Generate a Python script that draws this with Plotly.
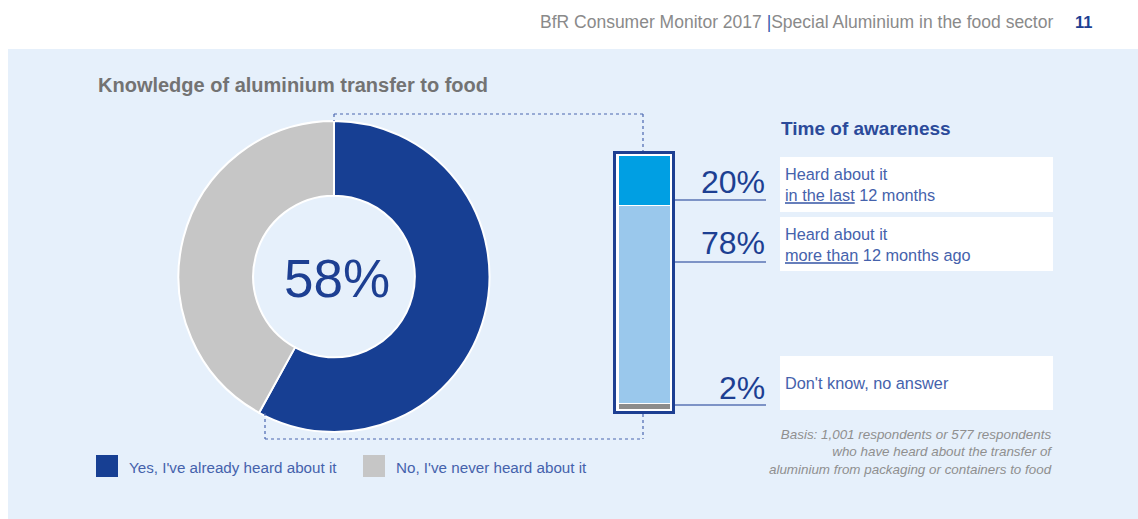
import plotly.graph_objects as go

# ---- data ----
donut_labels = ["Yes, I've already heard about it", "No, I've never heard about it"]
donut_values = [58, 42]
donut_colors = ["#173F93", "#C6C6C6"]

aware_labels = [
    "Heard about it<br><u>in the last</u> 12 months",
    "Heard about it<br><u>more than</u> 12 months ago",
    "Don't know, no answer",
]
aware_values = [20, 78, 2]
aware_colors = ["#009FE3", "#9AC8EC", "#8C8C8C"]

title_text = "Knowledge of aluminium transfer to food"
aware_title = "Time of awareness"
basis_text = ("Basis: 1,001 respondents or 577 respondents<br>"
              "who have heard about the transfer of<br>"
              "aluminium from packaging or containers to food")
header_text = "BfR Consumer Monitor 2017 <span style='color:#3B5BAA'>|</span>Special Aluminium in the food sector"
page_no = "11"

# ---- page geometry helpers (pixel -> paper) ----
W, H = 1138, 519
FONT = "Liberation Sans, Arial, sans-serif"
DARK = "#1D3F92"
TXT = "#4562AC"
PANEL = "#E6F0FB"


def px(x):
    return x / W


def py(y):
    return 1 - y / H


fig = go.Figure()

# donut
cx, cy, r = 334, 276.5, 155.5
fig.add_trace(go.Pie(
    labels=donut_labels, values=donut_values, hole=0.52, sort=False,
    direction="clockwise", rotation=0, textinfo="none", hoverinfo="label+percent",
    marker=dict(colors=donut_colors, line=dict(color="white", width=2)),
    domain=dict(x=[px(cx - r), px(cx + r)], y=[py(cy + r), py(cy - r)]),
    showlegend=False,
))

# stacked awareness bar (bottom segment first)
for lab, val, col in reversed(list(zip(aware_labels, aware_values, aware_colors))):
    fig.add_trace(go.Bar(
        x=[0], y=[val], width=1, name=lab, marker=dict(color=col, line=dict(color="white", width=1)),
        showlegend=False, hoverinfo="y",
    ))

bar_l, bar_r, bar_t, bar_b = 618, 670, 155, 409
fig.update_layout(
    barmode="stack",
    xaxis=dict(domain=[px(bar_l), px(bar_r)], range=[-0.5, 0.5], visible=False, fixedrange=True),
    yaxis=dict(domain=[py(bar_b), py(bar_t)], range=[0, 100], visible=False, fixedrange=True),
)

shapes = []
# light background panel
shapes.append(dict(type="rect", xref="paper", yref="paper", x0=px(8), x1=px(1138), y0=py(519), y1=py(49),
                   fillcolor=PANEL, line=dict(width=0), layer="below"))
# bar frame
shapes.append(dict(type="rect", xref="paper", yref="paper", x0=px(614.5), x1=px(673.5), y0=py(412.5), y1=py(152.5),
                   fillcolor="white", line=dict(color=DARK, width=3), layer="below"))

# dotted connectors between donut slice and bar
dot = dict(color="#4A66B0", width=1.2, dash="dot")
for (x0, y0, x1, y1) in [(334, 114, 643, 114), (643, 114, 643, 151), (334, 114, 334, 121),
                         (265, 413, 265, 439), (265, 439, 643, 439), (643, 414, 643, 439)]:
    shapes.append(dict(type="line", xref="paper", yref="paper", x0=px(x0), x1=px(x1), y0=py(y0), y1=py(y1),
                       line=dot, layer="above"))

# label boxes and leader lines
boxes = [(157, 212), (217, 271), (356, 410)]
leader_y = [200, 262, 405]
for (t, b), ly in zip(boxes, leader_y):
    shapes.append(dict(type="rect", xref="paper", yref="paper", x0=px(780), x1=px(1053), y0=py(b), y1=py(t),
                       fillcolor="white", line=dict(width=0), layer="below"))
    shapes.append(dict(type="line", xref="paper", yref="paper", x0=px(675), x1=px(766), y0=py(ly), y1=py(ly),
                       line=dict(color="#5A74B5", width=1.5)))

# legend swatches
legend_x = [96, 363]
for lx, col in zip(legend_x, donut_colors):
    shapes.append(dict(type="rect", xref="paper", yref="paper", x0=px(lx), x1=px(lx + 22), y0=py(477), y1=py(455),
                       fillcolor=col, line=dict(width=0)))

ann = []


def text(x, y, s, size, color, xanchor="left", bold=False, italic=False, align="left"):
    if bold:
        s = f"<b>{s}</b>"
    if italic:
        s = f"<i>{s}</i>"
    ann.append(dict(xref="paper", yref="paper", x=px(x), y=py(y), text=s, showarrow=False,
                    xanchor=xanchor, yanchor="middle", align=align,
                    font=dict(family=FONT, size=size, color=color)))


text(1055, 22, header_text, 17.5, "#8A8A8A", xanchor="right")
text(1083, 22, page_no, 16.5, DARK, xanchor="center", bold=True)
text(96, 85, title_text, 20, "#737373", bold=True)
text(337, 278, f"{donut_values[0]}%", 53, DARK, xanchor="center")
text(779, 128, aware_title, 19, "#2B4A9A", bold=True)

pct_y = [182, 243, 388]
box_text_y = [184.5, 244, 383]
for lab, val, yy, ty in zip(aware_labels, aware_values, pct_y, box_text_y):
    text(767, yy, f"{val}%", 32, DARK, xanchor="right")
    text(783, ty, lab, 16.3, TXT)

for lx, lab in zip(legend_x, donut_labels):
    text(lx + 31, 467, lab, 15.2, TXT)

text(1054, 452, basis_text, 13.4, "#8F8F8F", xanchor="right", italic=True, align="right")

fig.update_layout(
    width=W, height=H, margin=dict(l=0, r=0, t=0, b=0),
    paper_bgcolor="white", plot_bgcolor="rgba(0,0,0,0)",
    shapes=shapes, annotations=ann, showlegend=False,
)

fig.write_html("out.html")
